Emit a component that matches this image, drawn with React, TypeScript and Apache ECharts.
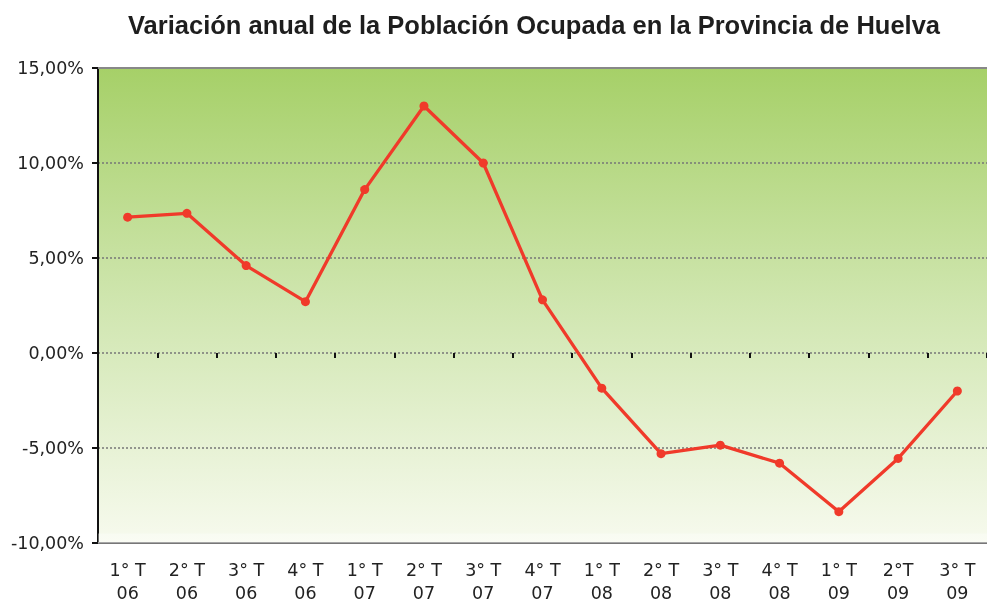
import React, { useEffect, useRef } from "react";
import * as echarts from "echarts";

const categories = [
  "1° T\n06", "2° T\n06", "3° T\n06", "4° T\n06",
  "1° T\n07", "2° T\n07", "3° T\n07", "4° T\n07",
  "1° T\n08", "2° T\n08", "3° T\n08", "4° T\n08",
  "1° T\n09", "2°T\n09", "3° T\n09",
];
const variacion = [7.15, 7.35, 4.6, 2.7, 8.6, 13.0, 10.0, 2.8, -1.85, -5.3, -4.85, -5.8, -8.35, -5.55, -2.0];
const titleText = "Variación anual de la Población Ocupada en la Provincia de Huelva";

export default function App() {
  const ref = useRef<HTMLDivElement>(null);
  useEffect(() => {
    if (!ref.current) return;
    const chart = echarts.init(ref.current, null, { renderer: "svg" });
    chart.setOption({
      animation: false,
      title: {
        text: titleText,
        left: 529,
        top: 7,
        textAlign: "center",
        textStyle: {
          fontFamily: "Liberation Sans",
          fontWeight: "bold",
          fontSize: 25.5,
          color: "#1e1e1e",
        },
      },
      grid: {
        left: 98,
        right: 0,
        top: 68,
        bottom: 60,
        show: true,
        borderWidth: 0,
        backgroundColor: new echarts.graphic.LinearGradient(0, 0, 0, 1, [
          { offset: 0, color: "#a6d068" },
          { offset: 0.5, color: "#d0e6b0" },
          { offset: 1, color: "#f7faee" },
        ]),
      },
      xAxis: [
        {
          type: "category",
          data: categories,
          position: "bottom",
          boundaryGap: true,
          axisLine: { onZero: false, lineStyle: { color: "#777", width: 2 } },
          axisTick: { show: false },
          axisLabel: {
            interval: 0,
            margin: 15,
            fontFamily: "DejaVu Sans",
            fontSize: 17.5,
            lineHeight: 23.5,
            color: "#222",
          },
        },
        {
          type: "category",
          data: categories,
          position: "top",
          boundaryGap: true,
          axisLine: { show: true, onZero: true, lineStyle: { color: "transparent" } },
          axisTick: { show: true, inside: true, length: 5, interval: 0, lineStyle: { color: "#111", width: 2 } },
          axisLabel: { show: false },
        },
      ],
      yAxis: {
        type: "value",
        min: -10,
        max: 15,
        interval: 5,
        axisLine: { show: true, lineStyle: { color: "#111", width: 2 } },
        axisTick: { show: true, length: 6, lineStyle: { color: "#111", width: 2 } },
        axisLabel: {
          margin: 14,
          fontFamily: "DejaVu Sans",
          fontSize: 17.5,
          color: "#222",
          formatter: (v: number) => v.toFixed(2).replace(".", ",") + "%",
        },
        splitLine: { show: true, lineStyle: { color: "#777", width: 1.5, type: [2, 2] } },
      },
      series: [
        {
          type: "line",
          xAxisIndex: 0,
          data: variacion,
          symbol: "circle",
          symbolSize: 9,
          lineStyle: { color: "#f03a2a", width: 3.3 },
          itemStyle: { color: "#f03a2a" },
          markLine: {
            silent: true,
            symbol: "none",
            label: { show: false },
            lineStyle: { color: "#888", width: 2, type: "solid" },
            data: [{ yAxis: 15 }],
          },
          markArea: {
            silent: true,
            itemStyle: { color: "rgba(255,255,255,0.35)" },
            data: [[{ yAxis: -10 }, { yAxis: -9.5 }]],
          },
        },
      ],
    });
    return () => chart.dispose();
  }, []);
  return (
    <div
      ref={ref}
      style={{ position: "fixed", left: 0, top: 0, width: 987, height: 605 }}
    />
  );
}
